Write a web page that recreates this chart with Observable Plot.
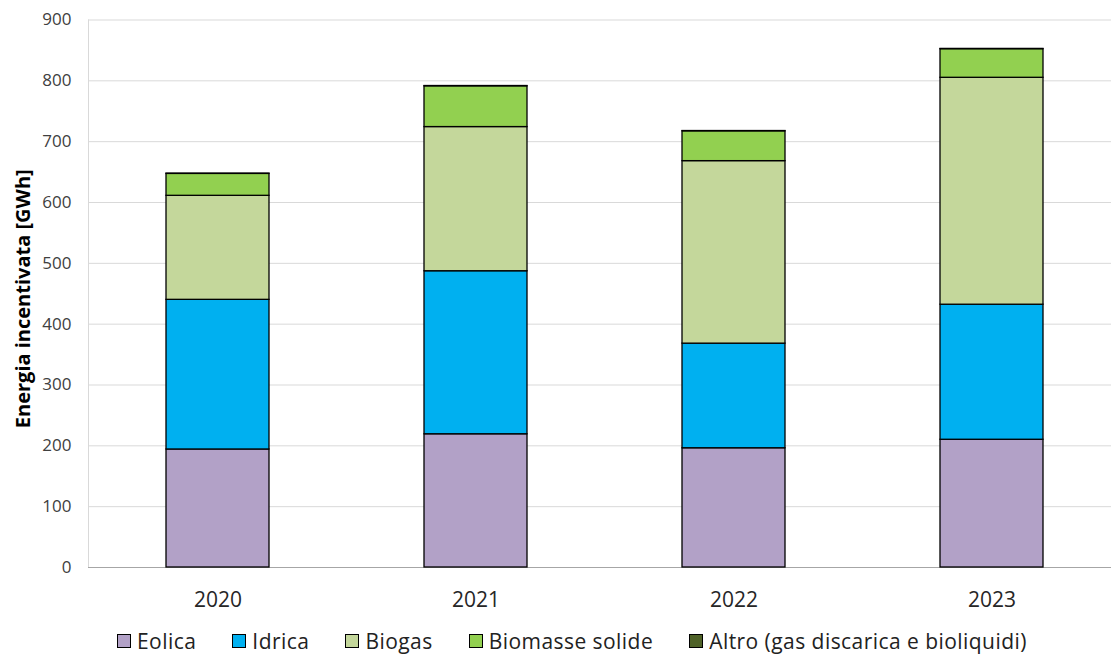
<!DOCTYPE html>
<html>
<head>
<meta charset="utf-8">
<script src="https://cdn.jsdelivr.net/npm/d3@7"></script>
<script src="https://cdn.jsdelivr.net/npm/@observablehq/plot@0.6"></script>
<style>
  html, body { margin: 0; padding: 0; background: #fff; }
  #wrap { position: relative; width: 1111px; height: 657px; overflow: hidden; font-family: "Open Sans", sans-serif; }
  #legend { position: absolute; left: 117px; top: 626px; height: 30px; display: flex; align-items: center; font-size: 21px; letter-spacing: 0.45px; color: #222; white-space: nowrap; }
  .item { display: flex; align-items: center; margin-right: 36px; }
  .sw { width: 12px; height: 12px; border: 1px solid #000; margin-right: 6px; }
</style>
</head>
<body>
<div id="wrap">
  <div id="chart"></div>
  <div id="legend"></div>
</div>
<script>
const years = ["2020", "2021", "2022", "2023"];
const seriesNames = ["Eolica", "Idrica", "Biogas", "Biomasse solide", "Altro (gas discarica e bioliquidi)"];
const eolica   = [194, 219, 196, 210];
const idrica   = [246, 268, 172, 222];
const biogas   = [171, 237, 300, 373];
const biomasse = [36, 67, 49, 47];
const altro    = [0.5, 0.5, 0.5, 0.5];
const seriesColors = ["#B2A1C7", "#00B0F0", "#C4D79B", "#92D050", "#4F6228"];
const yTicks = [0, 100, 200, 300, 400, 500, 600, 700, 800, 900];
const yLabel = "Energia incentivata [GWh]";

const values = [eolica, idrica, biogas, biomasse, altro];
const data = [];
seriesNames.forEach((s, i) => {
  years.forEach((y, j) => data.push({year: y, series: s, value: values[i][j]}));
});

const chart = Plot.plot({
  width: 1111,
  height: 620,
  marginLeft: 88,
  marginRight: 0,
  marginTop: 19.5,
  marginBottom: 53,
  style: {fontFamily: "'Open Sans', sans-serif", background: "#fff", color: "#404040"},
  x: {type: "band", domain: years, range: [88, 1122], paddingInner: 0.6, paddingOuter: 0.3},
  y: {domain: [0, 900], range: [567, 19.5]},
  color: {domain: seriesNames, range: seriesColors},
  marks: [
    Plot.ruleY(yTicks.slice(1), {stroke: "#d9d9d9", strokeWidth: 1}),
    Plot.frame({anchor: "left", stroke: "#d9d9d9"}),
    Plot.ruleY([0], {stroke: "#a6a6a6", strokeWidth: 1}),
    Plot.barY(data, {x: "year", y: "value", fill: "series", stroke: "#000", strokeWidth: 1.3, order: seriesNames}),
    Plot.axisY({ticks: yTicks, tickSize: 0, tickPadding: 17, fontSize: 17, label: null, fill: "#404040"}),
    Plot.axisX({tickSize: 0, tickPadding: 25, fontSize: 21, label: null, fill: "#262626"}),
    Plot.text([yLabel], {frameAnchor: "left", dx: -65, dy: 5, rotate: -90, textAnchor: "middle", fontSize: 20, fontWeight: "bold", fill: "#000"})
  ]
});
document.getElementById("chart").appendChild(chart);

const legend = document.getElementById("legend");
seriesNames.forEach((s, i) => {
  const item = document.createElement("div");
  item.className = "item";
  const sw = document.createElement("div");
  sw.className = "sw";
  sw.style.background = seriesColors[i];
  const t = document.createElement("span");
  t.textContent = s;
  item.appendChild(sw);
  item.appendChild(t);
  legend.appendChild(item);
});
</script>
</body>
</html>
